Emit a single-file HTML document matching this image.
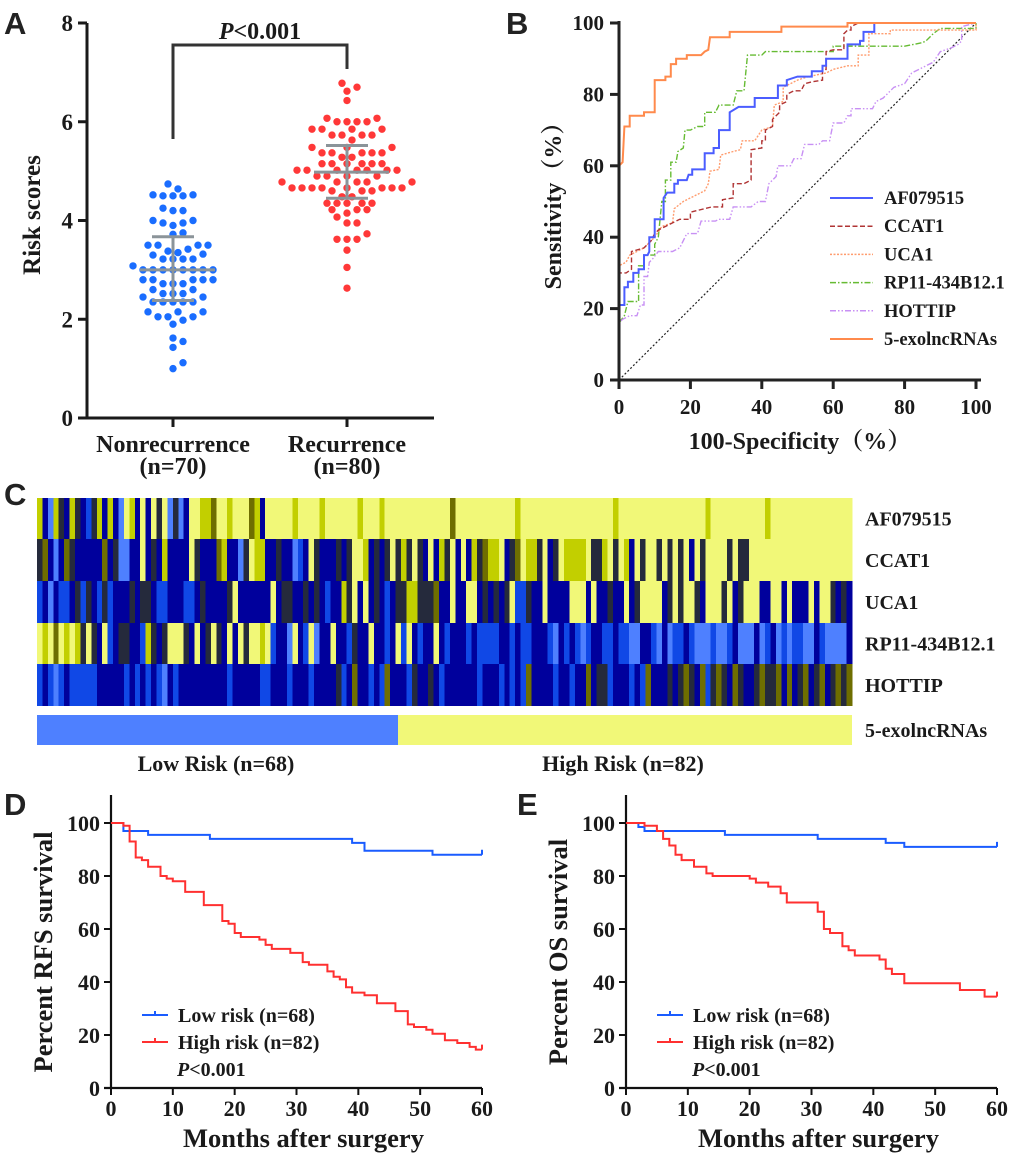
<!DOCTYPE html>
<html><head><meta charset="utf-8"><style>
html,body{margin:0;padding:0;background:#fff;}
svg{display:block;}
text{font-family:"Liberation Serif",serif;font-weight:bold;fill:#1a1a1a;}
.let{font-family:"Liberation Sans",sans-serif;font-size:31px;fill:#222;}
</style></head><body>
<svg id="fig" xmlns="http://www.w3.org/2000/svg" width="1020" height="1158" viewBox="0 0 1020 1158">
<text class="let" x="4" y="34">A</text>
<text class="let" x="506" y="34">B</text>
<text class="let" x="4" y="505">C</text>
<text class="let" x="4" y="815">D</text>
<text class="let" x="517" y="815">E</text>
</svg>
<script>
// ---------- DATA ----------
const groupNames=["Nonrecurrence","Recurrence"];
const nonrecScores=[4.74,4.64,4.52,4.5,4.5,4.52,4.5,4.25,4.2,4.2,4.0,3.95,3.9,3.95,4.0,3.75,3.72,3.5,3.5,3.5,3.5,3.42,3.35,3.32,3.3,3.38,3.22,3.22,3.22,3.22,3.08,3.0,3.0,3.0,3.0,3.0,3.0,3.0,3.0,2.8,2.8,2.8,2.8,2.8,2.72,2.72,2.72,2.6,2.6,2.52,2.52,2.52,2.45,2.45,2.35,2.35,2.35,2.35,2.35,2.15,2.15,2.15,2.05,2.05,2.05,1.98,1.9,1.62,1.55,1.43,1.12,1.0];
const recScores=[6.78,6.7,6.62,6.43,6.07,6.07,6.0,6.0,6.0,6.0,5.85,5.85,5.85,5.85,5.73,5.73,5.73,5.73,5.63,5.48,5.48,5.48,5.37,5.37,5.37,5.37,5.37,5.28,5.28,5.15,5.15,5.15,5.15,5.15,5.15,5.02,5.02,5.02,5.02,5.02,5.02,5.02,4.9,4.9,4.9,4.9,4.78,4.78,4.78,4.78,4.78,4.66,4.66,4.66,4.66,4.66,4.66,4.66,4.66,4.6,4.6,4.6,4.48,4.48,4.35,4.35,4.35,4.35,4.35,4.22,4.22,4.22,4.15,4.07,3.95,3.95,3.73,3.62,3.62,3.62,3.4,3.05,2.63];
const groupMean=[3.0,4.98];
const groupSDlo=[2.38,4.45];
const groupSDhi=[3.67,5.52];
const aTicks=[0,2,4,6,8];

const rocNames=["AF079515","CCAT1","UCA1","RP11-434B12.1","HOTTIP","5-exolncRNAs"];
const rocAF=[[0,0],[0,21],[1.5,21],[1.5,26],[2.5,26],[2.5,27.5],[4,27.5],[4,30],[5.5,30],[5.5,31],[7,31],[7,35],[8,35],[8.5,36],[8.5,40],[10,40],[10,45],[12.5,45],[12.5,51],[13.5,52.5],[15.5,52.5],[15.5,55],[16.5,55],[16.5,56],[19,56],[19.5,57.5],[20.5,57.5],[20.5,59],[24,59],[24,63.5],[26.5,63.5],[26.5,65],[28,65],[28,70],[31,70],[31,75],[33.5,76.5],[38,76.5],[38,79],[44.5,79],[44.5,82.5],[47,82.5],[47,84],[50,85],[54,85],[54,86.5],[57,86.5],[57,88],[58,88],[58,90],[64,90],[64,94],[67.5,94],[67.5,95],[68.5,95],[68.5,97.5],[71.5,97.5],[71.5,100],[100,100]];
const rocCCAT=[[0,0],[0,30],[2,30],[3.5,31],[3.5,36],[7,37],[9,39],[10,41],[11,42],[14,43.5],[17,45],[20,45],[20,47],[26,48.5],[29,48.5],[29,50.5],[32,51],[32,55],[35,55],[37,56],[37,64.5],[40,65],[40,67],[41,67],[41,70],[43,71],[43,73],[45,75],[45,77],[47,78],[47,80],[49,81],[51,81],[52,83],[54,83.5],[57,84],[57,87],[58,87],[58,92],[60,92.5],[63,92.5],[63,97],[64,98],[65,98],[65,99],[67,100],[100,100]];
const rocUCA=[[0,0],[0,32],[2,33],[3,35],[5,36],[7,37],[10,40],[12,43],[15,44],[15.5,48],[18,50],[20,51],[22,52],[24,53],[25,55],[25.5,58.5],[28,59],[28.5,63],[32,64],[34,64.5],[34.5,67],[38,67],[39,68.5],[40,70],[43,71],[43.5,77],[46,78],[46,82],[48,83],[50,84],[53,85],[58,86],[60,87],[64,88],[67,88],[67,91],[70,91],[70,97],[76,97],[76,98],[100,98],[100,100]];
const rocRP=[[0,0],[0,16],[1.5,18],[2.5,22],[5.5,22],[5.5,32],[7,32],[7,35],[10,35],[10,38],[11,40],[12,50],[13,50],[13,56],[14.5,56],[14.5,61],[16,61],[16.5,64],[18,65],[18.5,70],[20,70],[22,71],[24,71],[24,75],[27,75],[28,77],[32,77],[33,81],[35,81],[36,91],[40,91],[41,92],[60,92],[60,93.5],[80,93.5],[85,94.5],[86,95],[88,97],[90,98.5],[100,98.5],[100,100]];
const rocHOT=[[0,0],[0,16],[1,17],[3,18],[5,18],[6,21],[7,21],[7,29],[8,29],[8.5,33],[9.5,34],[11,36],[15,36],[17,37],[18.5,40],[19,41],[22,41],[23,44.5],[27,44.5],[28,45],[31,45],[32,48.5],[37,48.5],[39,50],[41,50],[42,55],[44,57],[44.5,60],[48,60],[49,62],[51,62],[52,66],[56,66],[57,67],[59,67],[60,72],[63,72],[64,74],[65,74],[65,76],[71,76],[72,78],[74,79],[77,82],[80,83],[82,86],[86,88],[88,89],[90,92],[93,93],[95,94],[96,95],[96,99],[100,100]];
const rocEXO=[[0,0],[0,60],[1,61],[1.5,71],[3,71],[3,74],[7,74],[7,75],[10,75],[10,84],[13,84],[13,85],[14.5,85],[14.5,88.5],[16,88.5],[16,90],[19,90],[19,91],[23,91],[24,92],[25,92.5],[25.5,96],[31,96],[31,97.5],[45.5,97.5],[45.5,99],[64,99],[64,100],[100,100]];
const rocTicks=[0,20,40,60,80,100];

const geneNames=["AF079515","CCAT1","UCA1","RP11-434B12.1","HOTTIP"];
const heatAF="5205325321352520652626360302665546656664526666656666566666656665666666666666466666666666566666666666666666566666666666666665666666666656666666666666666666";
const heatCCAT="3420243222224230022623252222632224522036552232201263222323665232363536326253626253455623465536236555563356365263663636362636666363366666666666666666666666";
const heatUCA="1202112313213122232332112221123222236222222623322323212253626232123355333422622662323236113226222266626223226236666236366326663623666226626222626632320000";
const heatRP="6564656536326123322153236663262363262636656122062160226221322622126162122621222121111221211222102121012211211002210201121000100120002012010110021000021111";
const heatHOT="1210121111122222121212102122222222212222211222122212222312422121422213223212222221222121214222212212242331222121422232343241343243223433424234234234341111";
const riskGroupSizes=[68,82];

const kmTicksX=[0,10,20,30,40,50,60];
const kmTicksY=[0,20,40,60,80,100];
const rfsLowT=[0,2,6,16,39,41,52,60];
const rfsLowS=[100,97,95.5,94,92.5,89.5,88,88];
const rfsHighT=[0,2,3,4,5,6,8,9,10,12,15,18,19,20,21,24,25,26,29,31,32,35,36,37,38,39,41,43,46,48,49,51,52,54,56,58,59,60];
const rfsHighS=[100,99,93,87,86,83.5,80,79,78,74,69,63,62,58.5,57,56,54,52.5,51,47.5,46.5,44,42,41,38,36,35,32,29,24,23,22,20.5,18,17,15.5,14.5,14.5];
const osLowT=[0,2,3,16,31,42,45,60];
const osLowS=[100,98.5,97,95.5,94,92.5,91,91];
const osHighT=[0,3,5,6,7,8,9,11,13,14,20,21,23,25,26,31,32,33,35,36,37,40,41,42,43,45,54,58,60];
const osHighS=[100,99,97,94,91.5,88,86,83.5,81,80,79,77.5,76,73.5,70,66.5,60,58.5,53.5,52,50,50,48.5,45,43,39.5,37,34.5,34.5];

// ---------- HELPERS ----------
const svg=document.getElementById('fig');
const NS="http://www.w3.org/2000/svg";
function mk(tag,attrs,parent){const e=document.createElementNS(NS,tag);for(const k in attrs)e.setAttribute(k,attrs[k]);(parent||svg).appendChild(e);return e;}
function txt(s,attrs,parent){const e=mk('text',attrs,parent);e.textContent=s;return e;}

// ---------- PANEL A ----------
(function(){
  const g=mk('g',{});
  
  
  const x0=87,yB=418,yT=23,vmax=8;
  const ya=v=>yB-(v/vmax)*(yB-yT);
  const gx=[173,347];
  const ax=mk('line',{x1:x0,y1:yT,x2:x0,y2:yB+1,stroke:'#1a1a1a','stroke-width':3},g);
  
  const bx=mk('line',{x1:x0-1,y1:yB,x2:434,y2:yB,stroke:'#1a1a1a','stroke-width':3},g);
  
  aTicks.forEach(t=>{
    mk('line',{x1:78,y1:ya(t),x2:x0,y2:ya(t),stroke:'#1a1a1a','stroke-width':3},g);
    const l=txt(String(t),{x:73,y:ya(t)+8,'text-anchor':'end','font-size':23},g);
    
  });
  gx.forEach(x=>mk('line',{x1:x,y1:yB,x2:x,y2:427,stroke:'#1a1a1a','stroke-width':3},g));
  const yt=txt('Risk scores',{transform:'translate(40,215) rotate(-90)','text-anchor':'middle','font-size':25},g);
  
  const labs=[["Nonrecurrence","(n=70)"],["Recurrence","(n=80)"]];
  labs.forEach((p,i)=>{
    const a=txt(p[0],{x:gx[i],y:452,'text-anchor':'middle','font-size':24},g);
    
    const b=txt(p[1],{x:gx[i],y:474,'text-anchor':'middle','font-size':24},g);
    
  });
  const br=mk('path',{d:`M${gx[0]},139 L${gx[0]},45 L${gx[1]},45 L${gx[1]},69`,fill:'none',stroke:'#333','stroke-width':3},g);
  
  const pt=mk('text',{x:260,y:39,'text-anchor':'middle','font-size':24},g);
  
  const ts=document.createElementNS(NS,'tspan');ts.setAttribute('font-style','italic');ts.textContent='P';pt.appendChild(ts);
  pt.appendChild(document.createTextNode('<0.001'));
  const sets=[nonrecScores,recScores], cols=['#1a6dff','#ff3838'];
  sets.forEach((vals,gi)=>{
    const sorted=vals.slice().sort((a,b)=>a-b);
    const placed=[];
    sorted.forEach(v=>{
      const y=ya(v);let x;
      const offs=[0];for(let i=1;i<30;i++){offs.push(i*5,-i*5);}
      for(const o of offs){x=gx[gi]+o;if(!placed.some(p=>Math.hypot(p[0]-x,p[1]-y)<8))break;}
      placed.push([x,y]);
      const c=mk('circle',{cx:x,cy:y,r:3.7,fill:cols[gi]},g);
      
      
    });
    const cx=gx[gi];
    const m=mk('line',{x1:cx-33,y1:ya(groupMean[gi]),x2:cx+42,y2:ya(groupMean[gi]),stroke:'#8b9499','stroke-width':3},g);
    
    mk('line',{x1:cx,y1:ya(groupSDlo[gi]),x2:cx,y2:ya(groupSDhi[gi]),stroke:'#8b9499','stroke-width':3},g);
    mk('line',{x1:cx-21,y1:ya(groupSDlo[gi]),x2:cx+21,y2:ya(groupSDlo[gi]),stroke:'#8b9499','stroke-width':3},g);
    mk('line',{x1:cx-21,y1:ya(groupSDhi[gi]),x2:cx+21,y2:ya(groupSDhi[gi]),stroke:'#8b9499','stroke-width':3},g);
  });
})();

// ---------- PANEL B ----------
(function(){
  const g=mk('g',{});
  
  
  const X=v=>619+v*3.57, Y=v=>380-v*3.57;
  const dg=mk('line',{x1:X(0),y1:Y(0),x2:X(100),y2:Y(100),stroke:'#222','stroke-width':1.2,'stroke-dasharray':'2,2'},g);
  
  const series=[[rocRP,'#66bb33','6,2,1.5,2'],[rocHOT,'#c890f4','6,2,1.5,2,1.5,2'],[rocUCA,'#ff9c6e','2,1.5'],[rocCCAT,'#b03434','5,2.5'],[rocAF,'#4b5dff',''],[rocEXO,'#ff8a4c','']];
  const order=["RP11-434B12.1","HOTTIP","UCA1","CCAT1","AF079515","5-exolncRNAs"];
  series.forEach((s,i)=>{
    const d=s[0].map((p,j)=>(j?'L':'M')+X(p[0]).toFixed(1)+','+Y(p[1]).toFixed(1)).join(' ');
    const a={d:d,fill:'none',stroke:s[1],'stroke-width':(s[2]?1.4:2)};
    if(s[2])a['stroke-dasharray']=s[2];
    const p=mk('path',a,g);
    
    
  });
  const ay=mk('line',{x1:X(0),y1:Y(100)-2,x2:X(0),y2:Y(0)+2,stroke:'#222','stroke-width':3},g);
  
  const axx=mk('line',{x1:X(0)-2,y1:Y(0),x2:X(100)+5,y2:Y(0),stroke:'#222','stroke-width':3},g);
  
  rocTicks.forEach(t=>{
    mk('line',{x1:X(0)-9,y1:Y(t),x2:X(0),y2:Y(t),stroke:'#222','stroke-width':3},g);
    mk('line',{x1:X(t),y1:Y(0),x2:X(t),y2:Y(0)+9,stroke:'#222','stroke-width':3},g);
    const a=txt(String(t),{x:604,y:Y(t)+7,'text-anchor':'end','font-size':21},g);
    
    const b=txt(String(t),{x:X(t),y:414,'text-anchor':'middle','font-size':21},g);
    
  });
  const xt=txt('100-Specificity（%）',{x:800,y:449,'text-anchor':'middle','font-size':24,style:'font-family:"Liberation Serif","Noto Serif CJK SC",serif'},g);
  
  const ytt=txt('Sensitivity（%）',{transform:'translate(561,200) rotate(-90)','text-anchor':'middle','font-size':24,style:'font-family:"Liberation Serif","Noto Serif CJK SC",serif'},g);
  
  const legStyle={"AF079515":['#4b5dff',''],"CCAT1":['#b03434','5,2.5'],"UCA1":['#ff9c6e','2,1.5'],"RP11-434B12.1":['#66bb33','6,2,1.5,2'],"HOTTIP":['#c890f4','6,2,1.5,2,1.5,2'],"5-exolncRNAs":['#ff8a4c','']};
  rocNames.forEach((n,i)=>{
    const y=198+i*28.2;
    const a={x1:830,y1:y,x2:873,y2:y,stroke:legStyle[n][0],'stroke-width':legStyle[n][1]?1.5:2};
    if(legStyle[n][1])a['stroke-dasharray']=legStyle[n][1];
    const l=mk('line',a,g);
    
    const t=txt(n,{x:884,y:y+6,'font-size':18.5},g);
    
  });
})();

// ---------- PANEL C ----------
(function(){
  const g=mk('g',{'shape-rendering':'crispEdges'});
  
  
  const palette=['#4e80ff','#1048e6','#00009c','#252a3c','#6e6e00','#c2cf00','#f1f878'];
  const rows=[heatAF,heatCCAT,heatUCA,heatRP,heatHOT];
  const ncol=riskGroupSizes[0]+riskGroupSizes[1];
  const x0=37,x1=852,cw=(x1-x0)/ncol;
  const rowTop=[498,539,581,623,664,706];
  rows.forEach((r,ri)=>{
    for(let c=0;c<ncol;c++){
      const v=+(r[c]||r[r.length-1]);
      const rc=mk('rect',{x:(x0+c*cw).toFixed(2),y:rowTop[ri],width:(cw+0.6).toFixed(2),height:rowTop[ri+1]-rowTop[ri],fill:palette[v]},g);
      
      
    }
    const t=txt(geneNames[ri],{x:865,y:(rowTop[ri]+rowTop[ri+1])/2+7,'font-size':20},g);
    
  });
  const split=398;
  const lb=mk('rect',{x:x0,y:715,width:split-x0,height:30,fill:'#4e80ff'},g);
  
  const hb=mk('rect',{x:split,y:715,width:x1-split,height:30,fill:'#f1f878'},g);
  
  const t5=txt('5-exolncRNAs',{x:865,y:737,'font-size':20},g);
  
  const l1=txt('Low Risk (n='+riskGroupSizes[0]+')',{x:216,y:771,'text-anchor':'middle','font-size':22},g);
  
  const l2=txt('High Risk (n='+riskGroupSizes[1]+')',{x:623,y:771,'text-anchor':'middle','font-size':22},g);
  
})();

// ---------- PANELS D/E ----------
function km(xa,title,lowT,lowS,highT,highS,titleX,legX,nm){
  const g=mk('g',{});
  
  
  const xb=xa+371;
  const X=t=>xa+t/60*(xb-xa), Y=v=>1088-v*2.65;
  const ay=mk('line',{x1:xa,y1:795,x2:xa,y2:1088,stroke:'#111','stroke-width':2.2},g);
  
  const ax=mk('line',{x1:xa-7,y1:1088,x2:xb,y2:1088,stroke:'#111','stroke-width':2.2},g);
  
  kmTicksY.forEach(t=>{
    mk('line',{x1:xa-7,y1:Y(t),x2:xa,y2:Y(t),stroke:'#111','stroke-width':2},g);
    const l=txt(String(t),{x:xa-11,y:Y(t)+8,'text-anchor':'end','font-size':22},g);
    
  });
  kmTicksX.forEach(t=>{
    mk('line',{x1:X(t),y1:1088,x2:X(t),y2:1095,stroke:'#111','stroke-width':2},g);
    const l=txt(String(t),{x:X(t),y:1116,'text-anchor':'middle','font-size':22},g);
    
  });
  function step(T,S,col,name){
    let d='M'+X(T[0])+','+Y(S[0]);
    for(let i=1;i<T.length;i++){d+=' L'+X(T[i]).toFixed(1)+','+Y(S[i-1]).toFixed(1)+' L'+X(T[i]).toFixed(1)+','+Y(S[i]).toFixed(1);}
    const last=T.length-1;
    d+=' M'+X(T[last]).toFixed(1)+','+(Y(S[last])-5).toFixed(1)+' L'+X(T[last]).toFixed(1)+','+Y(S[last]).toFixed(1);
    const p=mk('path',{d:d,fill:'none',stroke:col,'stroke-width':2},g);
    
  }
  step(lowT,lowS,'#1a5cff','low-risk-curve');
  step(highT,highS,'#ff3030','high-risk-curve');
  const ytt=txt(title,{transform:`translate(${titleX},952) rotate(-90)`,'text-anchor':'middle','font-size':26.5},g);
  
  const xt=txt('Months after surgery',{x:(xa+xb)/2+7,y:1147,'text-anchor':'middle','font-size':26.5},g);
  
  [['Low risk (n=68)','#1a5cff',1015],['High risk (n=82)','#ff3030',1042]].forEach(e=>{
    const l=mk('line',{x1:legX,y1:e[2],x2:legX+26,y2:e[2],stroke:e[1],'stroke-width':2},g);
    
    mk('line',{x1:legX+13,y1:e[2]-4,x2:legX+13,y2:e[2],stroke:e[1],'stroke-width':2},g);
    const t=txt(e[0],{x:legX+36,y:e[2]+7,'font-size':20},g);
    
  });
  const pt=mk('text',{x:legX+35,y:1076,'font-size':20},g);
  
  const ts=document.createElementNS(NS,'tspan');ts.setAttribute('font-style','italic');ts.textContent='P';pt.appendChild(ts);
  pt.appendChild(document.createTextNode('<0.001'));
}
km(111,'Percent RFS survival',rfsLowT,rfsLowS,rfsHighT,rfsHighS,52,142,'panel-d-rfs');
km(626,'Percent OS survival',osLowT,osLowS,osHighT,osHighS,567,657,'panel-e-os');
</script>
</body></html>
